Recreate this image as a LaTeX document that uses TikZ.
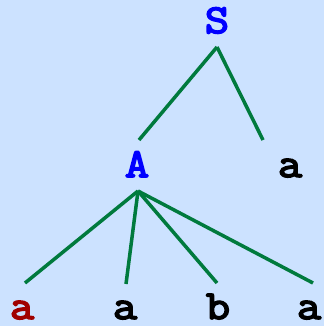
\documentclass[tikz,border=0pt]{standalone}
\usepackage{fontspec}
\newfontfamily\courf{Latin Modern Mono}[AutoFakeBold=4,FakeStretch=1.15]
\definecolor{bg}{RGB}{204,226,255}
\definecolor{edge}{RGB}{0,122,61}
\definecolor{nt}{RGB}{0,0,255}
\definecolor{dred}{RGB}{160,0,0}
\begin{document}
\begin{tikzpicture}[x=1pt,y=-1pt,
  lbl/.style={font=\courf\bfseries\fontsize{41}{41}\selectfont, inner sep=0pt, anchor=base},
  br/.style={draw=edge, line width=3.5pt}]
\fill[bg] (0,0) rectangle (324,326);
\useasboundingbox (0,0) rectangle (324,326);
\node[lbl, text=nt] (S) at (217,33) {S};
\node[lbl, text=nt] (A) at (137,177) {A};
\node[lbl] (a1) at (290,177) {a};
\node[lbl, text=dred] (l1) at (22,319) {a};
\node[lbl] (l2) at (125,319) {a};
\node[lbl] (l3) at (218,319) {b};
\node[lbl] (l4) at (309,319) {a};
\coordinate (sS) at (217,47);
\coordinate (sA) at (138,191);
\draw[br] (sS) -- (139,140);
\draw[br] (sS) -- (263,140);
\draw[br] (sA) -- (25,283);
\draw[br] (sA) -- (126,284);
\draw[br] (sA) -- (217,283);
\draw[br] (sA) -- (313,283);
\end{tikzpicture}
\end{document}
